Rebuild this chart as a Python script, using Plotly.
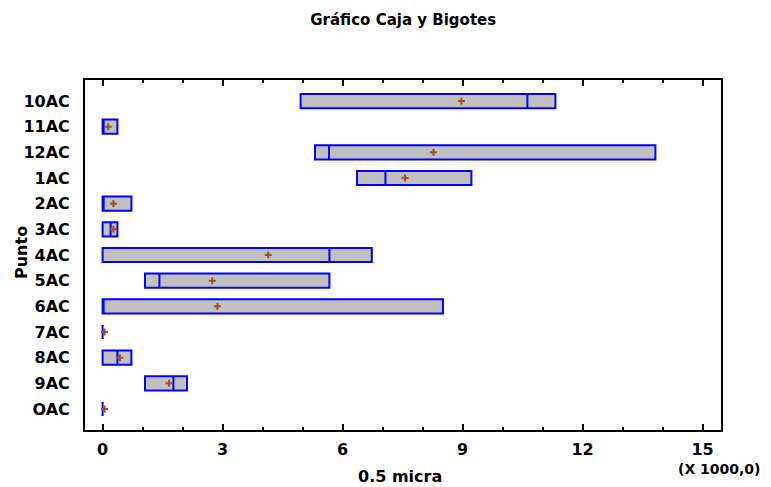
import plotly.graph_objects as go

# Data (x 1000)
categories = ["10AC", "11AC", "12AC", "1AC", "2AC", "3AC", "4AC", "5AC", "6AC", "7AC", "8AC", "9AC", "OAC"]
q1_vals     = [4.95, 0.00, 5.31, 6.36, 0.00, 0.00, 0.00, 1.06, 0.00, 0.00, 0.00, 1.06, 0.00]
median_vals = [10.62, 0.00, 5.66, 7.07, 0.00, 0.20, 5.67, 1.42, 0.00, 0.00, 0.37, 1.77, 0.00]
q3_vals     = [11.32, 0.37, 13.82, 9.22, 0.72, 0.37, 6.73, 5.67, 8.51, 0.00, 0.72, 2.11, 0.00]
mean_vals   = [8.97, 0.14, 8.27, 7.56, 0.27, 0.27, 4.14, 2.74, 2.87, 0.05, 0.43, 1.66, 0.05]
x_tick_vals = [0, 3, 6, 9, 12, 15]

FONT = "DejaVu Sans"

fig = go.Figure()
fig.add_trace(go.Box(
    orientation="h",
    y=categories,
    q1=q1_vals,
    median=median_vals,
    q3=q3_vals,
    lowerfence=q1_vals,
    upperfence=q3_vals,
    fillcolor="#C0C0C0",
    line=dict(color="#0000FF", width=2),
    whiskerwidth=0.3,
    boxpoints=False,
    showlegend=False,
    hoverinfo="skip",
))
fig.add_trace(go.Scatter(
    x=mean_vals,
    y=categories,
    mode="markers",
    marker=dict(symbol="cross-thin", size=5, line=dict(color="#A0501E", width=2), color="#A0501E"),
    showlegend=False,
    hoverinfo="skip",
))

fig.update_layout(
    width=771, height=487,
    margin=dict(l=85, r=50, t=80, b=57),
    plot_bgcolor="white", paper_bgcolor="white",
    boxgap=0.21,
    title=dict(text="Gráfico Caja y Bigotes", x=0.523, xanchor="center", y=1 - 20 / 487, yanchor="middle",
               font=dict(family=FONT, size=15, color="black", weight="bold")),
    font=dict(family=FONT, color="black"),
)
fig.update_xaxes(
    range=[-0.44, 15.46],
    tickvals=x_tick_vals,
    ticktext=[str(v) for v in x_tick_vals],
    ticks="inside", ticklen=6, tickwidth=2, tickcolor="black",
    minor=dict(dtick=1, tick0=0, ticks="inside", ticklen=3, tickwidth=2, tickcolor="black"),
    showline=True, linewidth=2, linecolor="black", mirror="ticks",
    showgrid=False, zeroline=False,
    tickfont=dict(family=FONT, size=16, color="black", weight="bold"),
    ticklabelstandoff=4,
)
fig.update_yaxes(
    categoryorder="array", categoryarray=categories,
    range=[12.82, -0.82],
    showline=True, linewidth=2, linecolor="black", mirror=True,
    showgrid=False, zeroline=False, ticks="",
    tickfont=dict(family=FONT, size=16, color="black", weight="bold"),
    ticklabelstandoff=10,
)

fig.add_annotation(text="0.5 micra", xref="paper", yref="paper", x=0.495, y=(430 - 476) / 350,
                   showarrow=False, xanchor="center", yanchor="middle",
                   font=dict(family=FONT, size=16, color="black", weight="bold"))
fig.add_annotation(text="(X 1000,0)", xref="paper", yref="paper", x=(719 - 85) / 636, y=(430 - 469) / 350,
                   showarrow=False, xanchor="center", yanchor="middle",
                   font=dict(family=FONT, size=14, color="black", weight="bold"))
fig.add_annotation(text="Punto", xref="paper", yref="paper", x=(21 - 85) / 636, y=(430 - 253) / 350,
                   showarrow=False, xanchor="center", yanchor="middle", textangle=-90,
                   font=dict(family=FONT, size=16, color="black", weight="bold"))

fig.write_html("out.html")
